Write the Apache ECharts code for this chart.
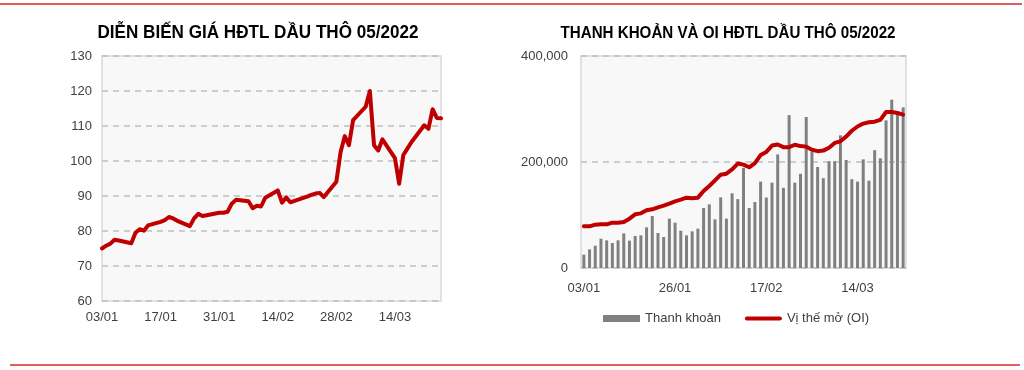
<!DOCTYPE html>
<html>
<head>
<meta charset="utf-8">
<script src="https://cdn.jsdelivr.net/npm/echarts@6/dist/echarts.min.js"></script>
<style>
  html, body { margin: 0; padding: 0; background: #ffffff; }
  #chart { width: 1024px; height: 370px; }
</style>
</head>
<body>
<div id="chart"></div>
<script>
// ---------- DATA ----------
const leftTitle = 'DIỄN BIẾN GIÁ HĐTL DẦU THÔ 05/2022';
const rightTitle = 'THANH KHOẢN VÀ OI HĐTL DẦU THÔ 05/2022';

const leftDates = [
  '2022-01-03','2022-01-04','2022-01-05','2022-01-06','2022-01-07',
  '2022-01-10','2022-01-11','2022-01-12','2022-01-13','2022-01-14',
  '2022-01-17','2022-01-18','2022-01-19','2022-01-20','2022-01-21',
  '2022-01-24','2022-01-25','2022-01-26','2022-01-27','2022-01-28',
  '2022-01-31','2022-02-01','2022-02-02','2022-02-03','2022-02-04',
  '2022-02-07','2022-02-08','2022-02-09','2022-02-10','2022-02-11',
  '2022-02-14','2022-02-15','2022-02-16','2022-02-17','2022-02-18',
  '2022-02-21','2022-02-22','2022-02-23','2022-02-24','2022-02-25',
  '2022-02-28','2022-03-01','2022-03-02','2022-03-03','2022-03-04',
  '2022-03-07','2022-03-08','2022-03-09','2022-03-10','2022-03-11',
  '2022-03-14','2022-03-15','2022-03-16','2022-03-17','2022-03-18',
  '2022-03-21','2022-03-22','2022-03-23','2022-03-24','2022-03-25'
];
const leftPrices = [
  75.0, 75.8, 76.4, 77.5, 77.3,
  76.5, 79.5, 80.5, 80.1, 81.6,
  82.6, 83.1, 84.0, 83.6, 82.9,
  81.4, 83.6, 84.9, 84.3, 84.5,
  85.2, 85.2, 85.5, 87.8, 88.9,
  88.5, 86.5, 87.2, 87.0, 89.5,
  91.6, 88.1, 89.6, 88.2, 88.6,
  89.8, 90.3, 90.7, 90.9, 89.7,
  94.1, 102.5, 107.1, 104.5, 111.7,
  115.5, 120.0, 104.5, 103.0, 106.2,
  100.8, 93.5, 101.7, 103.6, 105.5,
  110.2, 109.2, 114.8, 112.3, 112.2
];
const leftYTicks = { min: 60, max: 130, step: 10 };
const leftXStepDays = 14;

const rightDates = [
  '03/01','04/01','05/01','06/01','07/01','10/01','11/01','12/01','13/01','14/01',
  '18/01','19/01','20/01','21/01','24/01','25/01','26/01','27/01','28/01','31/01',
  '01/02','02/02','03/02','04/02','07/02','08/02','09/02','10/02','11/02','14/02',
  '15/02','16/02','17/02','18/02','22/02','23/02','24/02','25/02','28/02',
  '01/03','02/03','03/03','04/03','07/03','08/03','09/03','10/03','11/03','14/03',
  '15/03','16/03','17/03','18/03','21/03','22/03','23/03','24/03'
];
const liquidity = [
  25200, 35200, 42100, 55300, 52200, 47200, 52200, 65400, 51600, 60400,
  61600, 76700, 98100, 66000, 58500, 93100, 85500, 70400, 61600, 69200,
  74200, 113200, 120100, 91800, 133300, 93100, 141000, 130000, 189000, 113200,
  124500, 163000, 133000, 161000, 214300, 151300, 288500, 161000, 177700, 285000,
  218900, 190600, 169500, 201600, 201600, 250300, 203800, 167600, 163000, 205000,
  164800, 222300, 207000, 278600, 317600, 290000, 303100
];
const openInterest = [
  78600, 78600, 81800, 82400, 82400, 85500, 85500, 86800, 93100, 101300,
  103100, 108800, 110700, 114500, 117600, 121400, 125800, 128900, 132700, 131400,
  132700, 145300, 154700, 165400, 176100, 178000, 186000, 197000, 195000, 190000,
  198000, 213000, 219000, 231000, 233000, 228000, 228000, 232500, 230000, 229000,
  223000, 220500, 221500, 227000, 236000, 239000, 248000, 259000, 267000, 272500,
  275000, 276000, 279500, 294300, 294300, 292400, 289300
];
const rightYTicks = { min: 0, max: 400000, step: 200000 };
const legendNames = ['Thanh khoản', 'Vị thế mở (OI)'];

// ---------- HELPERS ----------
const DAY = 86400000;
const base = Date.parse(leftDates[0] + 'T00:00:00Z');
const dayOffset = s => Math.round((Date.parse(s + 'T00:00:00Z') - base) / DAY);
const lastDay = dayOffset(leftDates[leftDates.length - 1]);
const fmtDay = v => {
  const d = new Date(base + v * DAY);
  const dd = String(d.getUTCDate()).padStart(2, '0');
  const mm = String(d.getUTCMonth() + 1).padStart(2, '0');
  return dd + '/' + mm;
};
const addCommas = v => String(v).replace(/\B(?=(\d{3})+(?!\d))/g, ',');

const RED = '#c00000';
const GREY_BAR = '#808080';
const TXT = '#404040';
const AXFONT = '"Liberation Sans", Arial, sans-serif';
const TITLEFONT = '"Liberation Sans", Arial, sans-serif';

// condensed title look: measure natural width and squeeze horizontally
const mctx = document.createElement('canvas').getContext('2d');
function squeeze(text, font, targetW) {
  mctx.font = font;
  const w = mctx.measureText(text).width;
  return w > 0 ? targetW / w : 1;
}
const leftTitleFont = 'bold 19px ' + TITLEFONT;
const rightTitleFont = 'bold 17px ' + TITLEFONT;
const leftScale = squeeze(leftTitle, leftTitleFont, 321);
const rightScale = squeeze(rightTitle, rightTitleFont, 335);

const chart = echarts.init(document.getElementById('chart'), null, { renderer: 'canvas' });

const option = {
  backgroundColor: '#ffffff',
  animation: false,
  graphic: [
    { type: 'line', shape: { x1: 0, y1: 4, x2: 1022, y2: 4 }, style: { stroke: '#e06060', lineWidth: 2 } },
    { type: 'line', shape: { x1: 10, y1: 365, x2: 1020, y2: 365 }, style: { stroke: '#e06060', lineWidth: 2 } },
    { type: 'text', x: 258, y: 33, scaleX: leftScale, style: { text: leftTitle, textAlign: 'center', textVerticalAlign: 'middle',
        font: leftTitleFont, fill: '#000' } },
    { type: 'text', x: 728, y: 33, scaleX: rightScale, style: { text: rightTitle, textAlign: 'center', textVerticalAlign: 'middle',
        font: rightTitleFont, fill: '#000' } }
  ],
  legend: {
    data: [
      { name: legendNames[0], icon: 'rect' },
      { name: legendNames[1], icon: 'path://M4,0 H70 A4,4 0 0 1 70,8 H4 A4,4 0 0 1 4,0 Z' }
    ],
    left: 598, top: 307,
    itemWidth: 37, itemHeight: 7, itemGap: 24,
    textStyle: { fontFamily: AXFONT, fontSize: 13, color: TXT }
  },
  grid: [
    { left: 102, top: 56, width: 339, height: 245, show: true, backgroundColor: '#f8f8f8',
      borderColor: '#d9d9d9', borderWidth: 1.5, containLabel: false },
    { left: 581, top: 56, width: 325, height: 212, show: true, backgroundColor: '#f8f8f8',
      borderColor: '#d9d9d9', borderWidth: 1.5, containLabel: false }
  ],
  xAxis: [
    {
      gridIndex: 0, type: 'value', min: 0, max: lastDay, interval: leftXStepDays,
      axisLine: { show: false }, axisTick: { show: false }, splitLine: { show: false },
      axisLabel: {
        showMaxLabel: false, margin: 10, fontFamily: AXFONT, fontSize: 13, color: TXT,
        formatter: v => (v % leftXStepDays === 0 ? fmtDay(v) : '')
      }
    },
    {
      gridIndex: 1, type: 'category', data: rightDates, boundaryGap: true,
      axisLine: { show: false }, axisTick: { show: false }, splitLine: { show: false },
      axisLabel: { interval: 15, margin: 14, fontFamily: AXFONT, fontSize: 13, color: TXT }
    }
  ],
  yAxis: [
    {
      gridIndex: 0, type: 'value', min: leftYTicks.min, max: leftYTicks.max, interval: leftYTicks.step,
      axisLine: { show: false }, axisTick: { show: false },
      splitLine: { show: true, lineStyle: { type: [6, 5], color: '#bfbfbf', width: 1.5 } },
      axisLabel: { margin: 10, fontFamily: AXFONT, fontSize: 13, color: TXT }
    },
    {
      gridIndex: 1, type: 'value', min: rightYTicks.min, max: rightYTicks.max, interval: rightYTicks.step,
      axisLine: { show: false }, axisTick: { show: false },
      splitLine: { show: true, lineStyle: { type: [6, 5], color: '#bfbfbf', width: 1.5 } },
      axisLabel: { margin: 13, fontFamily: AXFONT, fontSize: 13, color: TXT, formatter: v => addCommas(v) }
    }
  ],
  series: [
    {
      name: 'Giá', type: 'line', xAxisIndex: 0, yAxisIndex: 0,
      data: leftDates.map((d, i) => [dayOffset(d), leftPrices[i]]),
      showSymbol: false, symbol: 'none',
      lineStyle: { color: RED, width: 4, join: 'round', cap: 'round' }
    },
    {
      name: legendNames[0], type: 'bar', xAxisIndex: 1, yAxisIndex: 1,
      data: liquidity, barWidth: 3, itemStyle: { color: GREY_BAR }
    },
    {
      name: legendNames[1], type: 'line', xAxisIndex: 1, yAxisIndex: 1,
      data: openInterest, showSymbol: false, symbol: 'none',
      itemStyle: { color: RED },
      lineStyle: { color: RED, width: 4, join: 'round', cap: 'round' }
    }
  ]
};
chart.setOption(option);
</script>
</body>
</html>
